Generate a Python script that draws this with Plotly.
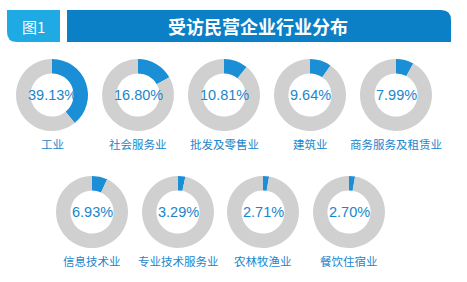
import plotly.graph_objects as go

W, H = 467, 282
title = "受访民营企业行业分布"
fig_label = "图1"
industries = ["工业", "社会服务业", "批发及零售业", "建筑业", "商务服务及租赁业",
              "信息技术业", "专业技术服务业", "农林牧渔业", "餐饮住宿业"]
shares = [39.13, 16.80, 10.81, 9.64, 7.99, 6.93, 3.29, 2.71, 2.70]

BLUE = "#1b8fd6"
GREY = "#d0d0d0"
TXT = "#1a86cc"

# layout centres (pixels)
row1_x = [52, 138, 224, 310, 396]
row2_x = [92, 178, 263, 349]
centers = [(x, 95) for x in row1_x] + [(x, 212) for x in row2_x]
R = 36
label_dy = 49

fig = go.Figure()
annotations = []
for (cx, cy), name, v in zip(centers, industries, shares):
    fig.add_trace(go.Pie(
        values=[v, 100 - v], sort=False, direction="clockwise", rotation=0,
        hole=0.6, marker=dict(colors=[BLUE, GREY], line=dict(width=0)),
        textinfo="none", hoverinfo="skip", showlegend=False,
        domain=dict(x=[(cx - R) / W, (cx + R) / W], y=[1 - (cy + R) / H, 1 - (cy - R) / H]),
    ))
    annotations.append(dict(x=cx / W, y=1 - cy / H, xref="paper", yref="paper",
                            xanchor="center", yanchor="middle",
                            text=f"{v:.2f}%", showarrow=False,
                            font=dict(family="Liberation Sans Narrow, Liberation Sans, Arial", size=14.5, color=TXT)))
    annotations.append(dict(x=cx / W, y=1 - (cy + label_dy) / H, xref="paper", yref="paper",
                            xanchor="center", yanchor="middle",
                            text=name, showarrow=False,
                            font=dict(family="Noto Sans CJK SC", size=11.5, color=TXT)))

def px(x):
    return x / W
def py(y):
    return 1 - y / H

r = 10
# left box: rounded bottom-left
lx0, lx1, ty, by = 7, 60, 10, 42
left_path = (f"M {px(lx0)},{py(ty)} L {px(lx1)},{py(ty)} L {px(lx1)},{py(by)} "
             f"L {px(lx0 + r)},{py(by)} Q {px(lx0)},{py(by)} {px(lx0)},{py(by - r)} Z")
# right box: rounded top-right
rx0, rx1 = 67, 451
right_path = (f"M {px(rx0)},{py(ty)} L {px(rx1 - r)},{py(ty)} Q {px(rx1)},{py(ty)} {px(rx1)},{py(ty + r)} "
              f"L {px(rx1)},{py(by)} L {px(rx0)},{py(by)} Z")
shapes = [
    dict(type="path", path=left_path, xref="paper", yref="paper", fillcolor="#20aae3", line=dict(width=0), layer="below"),
    dict(type="path", path=right_path, xref="paper", yref="paper", fillcolor="#0b80c6", line=dict(width=0), layer="below"),
]
annotations.append(dict(x=px(33), y=py(26), xref="paper", yref="paper", xanchor="center", yanchor="middle",
                        text=fig_label, showarrow=False,
                        font=dict(family="Noto Sans CJK SC", size=15, color="white")))
annotations.append(dict(x=px(258), y=py(26), xref="paper", yref="paper", xanchor="center", yanchor="middle",
                        text=f"<b>{title}</b>", showarrow=False,
                        font=dict(family="Noto Sans CJK SC", size=18, color="white")))

fig.update_layout(width=W, height=H, margin=dict(l=0, r=0, t=0, b=0),
                  paper_bgcolor="white", plot_bgcolor="white",
                  shapes=shapes, annotations=annotations)
fig.write_html("out.html")
